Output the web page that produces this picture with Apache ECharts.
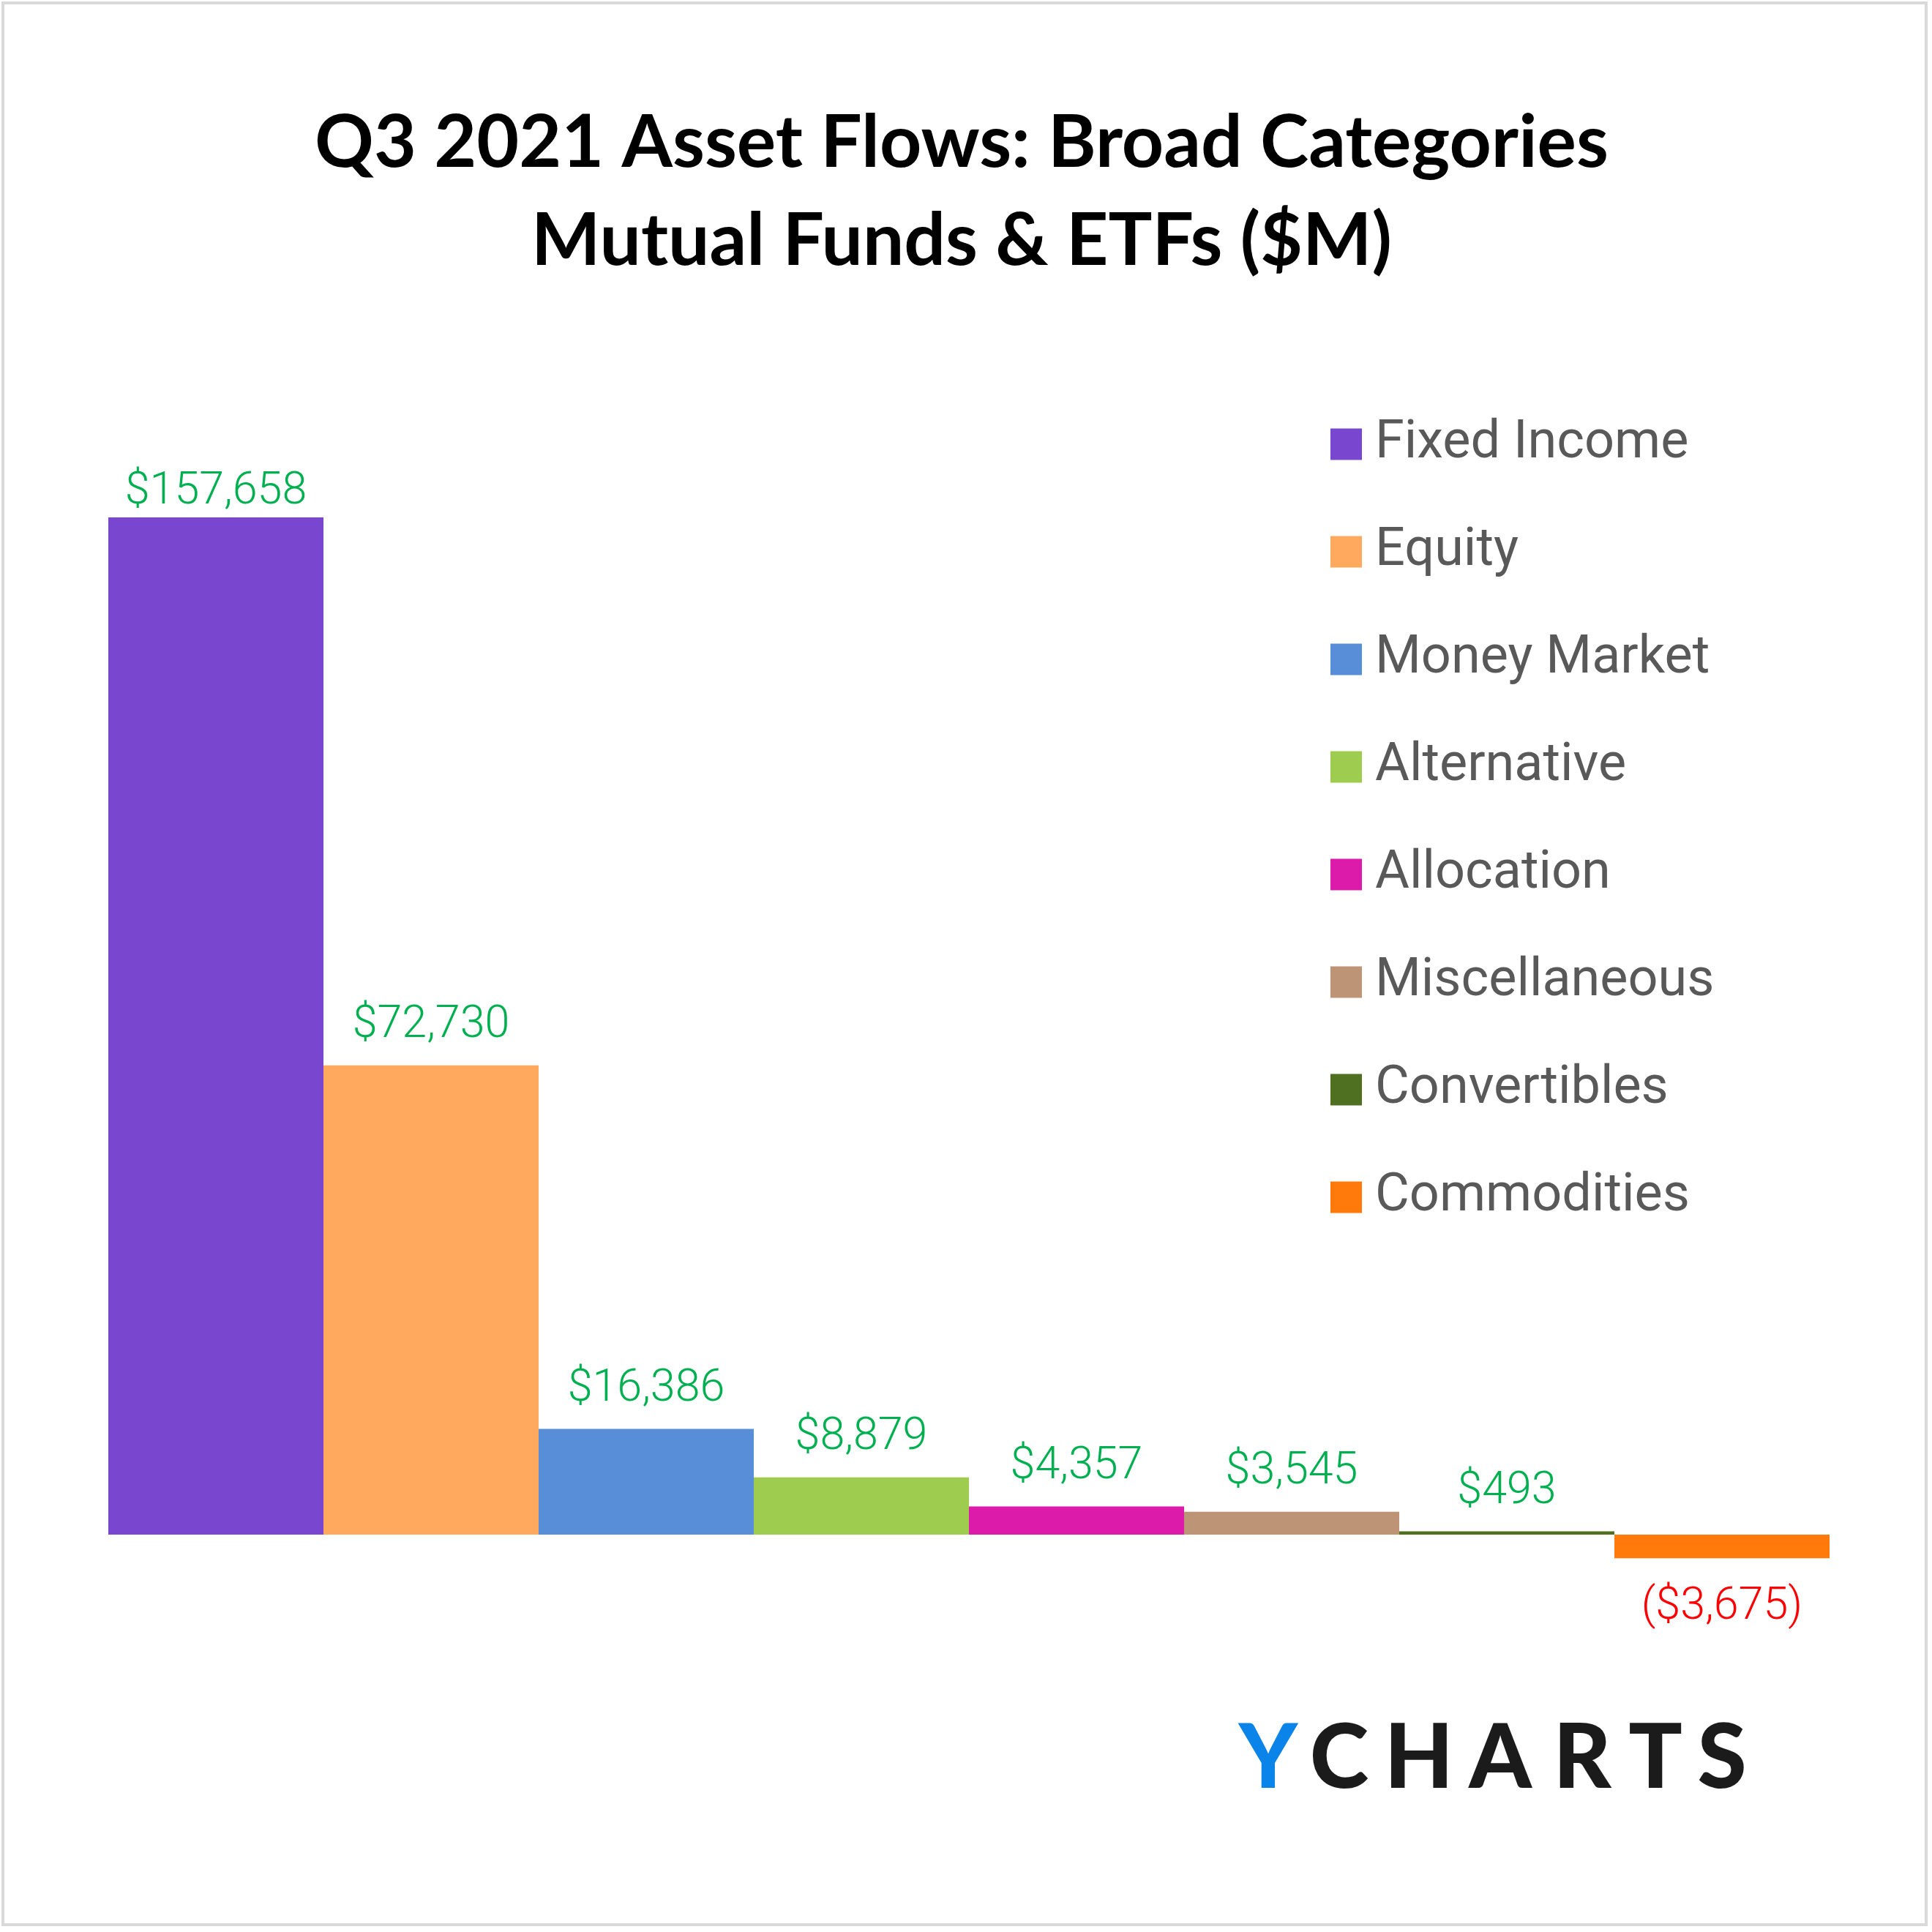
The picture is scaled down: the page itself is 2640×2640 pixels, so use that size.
<!DOCTYPE html>
<html>
<head>
<meta charset="utf-8">
<script src="https://cdn.jsdelivr.net/npm/echarts@6/dist/echarts.min.js"></script>
<style>html,body{margin:0;padding:0;background:#fff}#c{width:2640px;height:2640px}</style>
</head>
<body>
<div id="c"></div>
<script>
const categories = ['Fixed Income','Equity','Money Market','Alternative','Allocation','Miscellaneous','Convertibles','Commodities'];
const flows = [157658, 72730, 16386, 8879, 4357, 3545, 493, -3675];
const colors = ['#7846CF','#FFA95E','#588DD7','#9DCC4E','#DC1BAA','#BE9477','#4F7021','#FF790B'];
const titleLines = ['Q3 2021 Asset Flows: Broad Categories','Mutual Funds & ETFs ($M)'];

function fmt(v){
  const s = '$' + Math.abs(v).toLocaleString('en-US');
  return v < 0 ? '(' + s + ')' : s;
}

const chart = echarts.init(document.getElementById('c'), null, {renderer:'canvas'});

const series = categories.map((name, i) => ({
  name: name,
  type: 'bar',
  stack: 'all',
  barCategoryGap: '0%',
  data: flows.map((v, j) => j === i ? v : '-'),
  itemStyle: {color: colors[i]},
  label: {
    show: true,
    position: flows[i] < 0 ? 'bottom' : 'top',
    distance: i === 0 ? 4 : (flows[i] < 0 ? 37 : 23),
    color: flows[i] < 0 ? '#FF0000' : '#00B050',
    fontFamily: 'Roboto',
    fontWeight: 300,
    fontSize: 61,
    formatter: p => fmt(p.value)
  }
}));

const logo = [
  ['Y',1733,'#0A84E8'],['C',1830,'#1B1B1B'],['H',1939,'#1B1B1B'],['A',2050,'#1B1B1B'],
  ['R',2162,'#1B1B1B'],['T',2262,'#1B1B1B'],['S',2353,'#1B1B1B']
];

chart.setOption({
  backgroundColor: '#fff',
  animation: false,
  title: {
    text: titleLines.join('\n'),
    left: 1309,
    textAlign: 'center',
    top: 124,
    textStyle: {fontFamily: 'Lato', fontWeight: 'bold', fontSize: 100, lineHeight: 134, color: '#000'}
  },
  legend: {
    orient: 'vertical',
    left: 1813,
    top: 566,
    icon: 'rect',
    itemWidth: 43,
    itemHeight: 43,
    itemGap: 75,
    data: categories,
    textStyle: {fontFamily: 'Roboto', fontSize: 72, color: '#595959', padding: [0,0,0,13]}
  },
  grid: {left: 148, right: 140, top: 686.3, height: 1587},
  xAxis: {type: 'category', data: categories, show: false},
  yAxis: {type: 'value', min: -20000, max: 160000, show: false, splitLine: {show: false}},
  series: series,
  graphic: [
    {type: 'rect', shape: {x: 4, y: 4, width: 2628, height: 2626}, style: {fill: 'none', stroke: '#D9D9D9', lineWidth: 4}, silent: true}
  ].concat(logo.map(l => ({
    type: 'text', x: l[1], y: 2404,
    style: {text: l[0], fill: l[2], font: '900 122px Lato', textAlign: 'center', textVerticalAlign: 'middle'}
  })))
});
</script>
</body>
</html>
